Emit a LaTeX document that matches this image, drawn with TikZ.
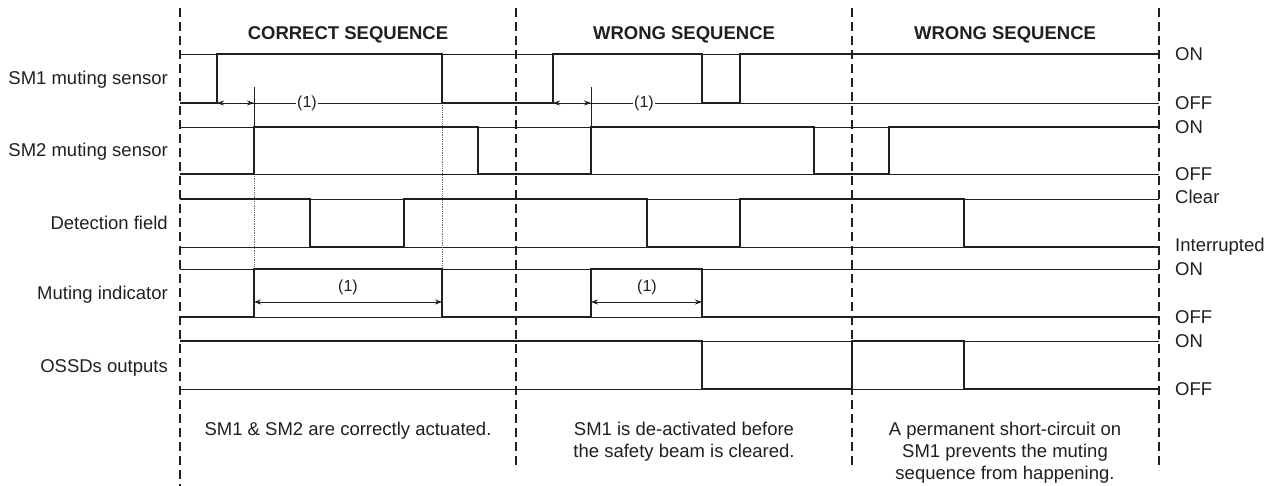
\documentclass[tikz,border=0pt]{standalone}
\usepackage{fontspec}
\setmainfont{Liberation Sans}
\usepackage{tikz}
\usetikzlibrary{arrows.meta, positioning}
\definecolor{mydark}{RGB}{35,31,32}
\definecolor{mygrey}{RGB}{110,110,110}
\tikzset{
  sig/.style={line width=2.3pt, color=mydark, line join=miter},
  level/.style={line width=0.9pt, color=mydark},
  divider/.style={line width=1.8pt, color=mydark, dash pattern=on 9pt off 5pt},
  guide/.style={line width=0.8pt, color=mygrey, densely dotted},
  tick/.style={line width=0.9pt, color=mydark},
  dimarrow/.style={{Stealth[length=7pt,width=5pt]}-{Stealth[length=7pt,width=5pt]},
    line width=0.8pt, color=mydark},
  rowlabel/.style={anchor=base east, yshift=-6.5pt, inner sep=0pt,
    font=\fontsize{18.5}{22}\selectfont, text=mydark},
  statelabel/.style={anchor=base west, yshift=-6.5pt, inner sep=0pt,
    font=\fontsize{18.5}{22}\selectfont, text=mydark},
  title/.style={anchor=base, yshift=-6.5pt, inner sep=0pt,
    font=\fontsize{18.5}{22}\selectfont\bfseries, text=mydark},
  note/.style={align=center, inner sep=0pt,
    font=\fontsize{18.5}{22}\selectfont, text=mydark},
  dimtext/.style={fill=white, inner sep=1.5pt,
    font=\fontsize{16}{18}\selectfont, text=mydark}
}

\begin{document}
\begin{tikzpicture}[x=1pt, y=-1pt]
  \useasboundingbox (0,0) rectangle (1276,486);

  % level lines
  \foreach \y in {54,103,127,174,199,247,269,317,341,389}
    \draw[level] (180,\y) -- (1159,\y);

  % guides and ticks
  \draw[guide] (254,174) -- (254,269);
  \draw[guide] (442,103) -- (442,269);
  \draw[tick] (254,87) -- (254,127);
  \draw[tick] (591,87) -- (591,127);

  % signals
  \draw[sig] (180,103) -- (217,103) -- (217,54) -- (442,54) -- (442,103) -- (553,103)
    -- (553,54) -- (702,54) -- (702,103) -- (740,103) -- (740,54) -- (1159,54);
  \draw[sig] (180,174) -- (254,174) -- (254,127) -- (478,127) -- (478,174) -- (591,174)
    -- (591,127) -- (814,127) -- (814,174) -- (889,174) -- (889,127) -- (1159,127);
  \draw[sig] (180,199) -- (310,199) -- (310,247) -- (404,247) -- (404,199) -- (647,199)
    -- (647,247) -- (740,247) -- (740,199) -- (964,199) -- (964,247) -- (1159,247);
  \draw[sig] (180,317) -- (254,317) -- (254,269) -- (442,269) -- (442,317) -- (591,317)
    -- (591,269) -- (702,269) -- (702,317) -- (1159,317);
  \draw[sig] (180,341) -- (702,341) -- (702,389) -- (852,389) -- (852,341) -- (964,341)
    -- (964,389) -- (1159,389);

  % time marks (1)
  \coordinate (sa1) at (217,103);
  \coordinate (sb1) at (254,103);
  \coordinate (sa2) at (553,103);
  \coordinate (sb2) at (591,103);
  \coordinate (ma1) at (254,302);
  \coordinate (mb1) at (442,302);
  \coordinate (ma2) at (591,302);
  \coordinate (mb2) at (702,302);
  \draw[dimarrow] (sa1) -- (sb1);
  \draw[dimarrow] (sa2) -- (sb2);
  \draw[dimarrow] (ma1) -- (mb1);
  \draw[dimarrow] (ma2) -- (mb2);
  \node[dimtext] (t1) at (307,103) {(1)};
  \node[dimtext] (t2) at (644,103) {(1)};
  \node[dimtext] (t3) at (348,287) {(1)};
  \node[dimtext] (t4) at (647,287) {(1)};

  % dividers
  \draw[divider] (180,8) -- (180,486);
  \foreach \x in {516,852,1159}
    \draw[divider] (\x,8) -- (\x,470);

  % titles
  \node[title] (correct) at (348,33) {CORRECT SEQUENCE};
  \node[title] (wrongA) at (684,33) {WRONG SEQUENCE};
  \node[title] (wrongB) at (1005,33) {WRONG SEQUENCE};

  % row names
  \node[rowlabel] (sm1) at (168,78) {SM1 muting sensor};
  \node[rowlabel] (sm2) at (168,150) {SM2 muting sensor};
  \node[rowlabel] (field) at (168,223) {Detection field};
  \node[rowlabel] (mute) at (168,293) {Muting indicator};
  \node[rowlabel] (ossd) at (168,366) {OSSDs outputs};

  % states
  \node[statelabel] (on1) at (1175,54) {ON};
  \node[statelabel] (off1) at (1175,103) {OFF};
  \node[statelabel] (on2) at (1175,127) {ON};
  \node[statelabel] (off2) at (1175,174) {OFF};
  \node[statelabel] (clr) at (1175,197) {Clear};
  \node[statelabel] (intr) at (1175,245) {Interrupted};
  \node[statelabel] (on3) at (1175,269) {ON};
  \node[statelabel] (off3) at (1175,317) {OFF};
  \node[statelabel] (on4) at (1175,341) {ON};
  \node[statelabel] (off4) at (1175,389) {OFF};

  % notes
  \node[note] (noteA) at (348,431) {SM1 \& SM2 are correctly actuated.};
  \node[note] (noteB) at (684,442) {SM1 is de-activated before\\the safety beam is cleared.};
  \node[note] (noteC) at (1005,453) {A permanent short-circuit on\\SM1 prevents the muting\\sequence from happening.};
\end{tikzpicture}
\end{document}
